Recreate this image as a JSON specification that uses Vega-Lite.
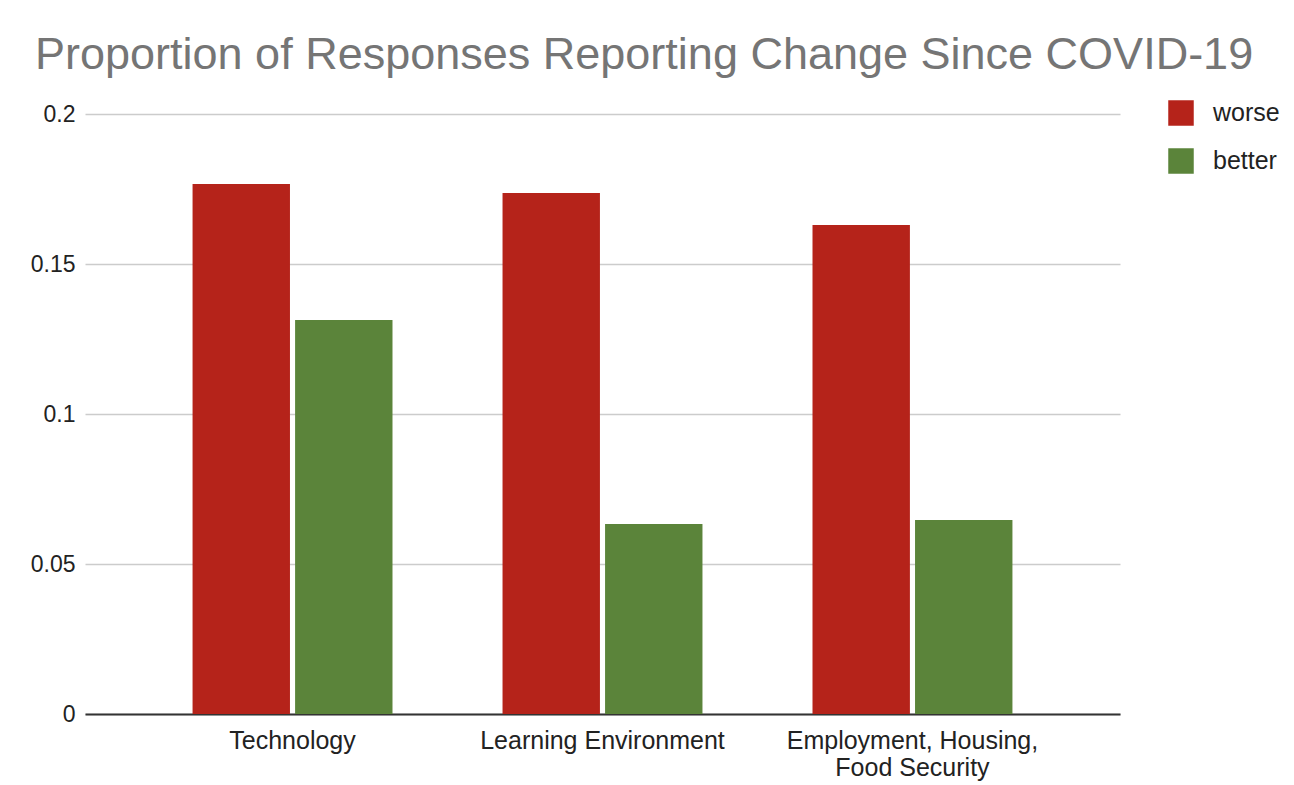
{
  "$schema": "https://vega.github.io/schema/vega-lite/v6.json",
  "autosize": "none",
  "width": 1035,
  "height": 600,
  "padding": {"left": 85, "top": 114, "right": 174, "bottom": 71},
  "background": "white",
  "config": {"view": {"stroke": null}},
  "title": {
    "text": "Proportion of Responses Reporting Change Since COVID-19",
    "anchor": "start",
    "frame": "group",
    "dx": -50,
    "offset": 22,
    "fontSize": 45,
    "font": "Liberation Sans",
    "fontWeight": "normal",
    "color": "#757575"
  },
  "data": {
    "values": [
      {"category": "Technology", "response": "worse", "value": 0.1767},
      {"category": "Technology", "response": "better", "value": 0.1313},
      {"category": "Learning Environment", "response": "worse", "value": 0.1737},
      {"category": "Learning Environment", "response": "better", "value": 0.0633},
      {"category": "Employment, Housing, Food Security", "response": "worse", "value": 0.163},
      {"category": "Employment, Housing, Food Security", "response": "better", "value": 0.0647}
    ]
  },
  "mark": {"type": "bar"},
  "encoding": {
    "x": {
      "field": "category",
      "type": "nominal",
      "sort": ["Technology", "Learning Environment", "Employment, Housing, Food Security"],
      "scale": {"paddingInner": 0.355, "paddingOuter": 0.347},
      "axis": {
        "title": null,
        "labelAngle": 0,
        "labelFont": "Liberation Sans",
        "labelFontSize": 25,
        "labelColor": "#222222",
        "labelPadding": 14,
        "labelLimit": 400,
        "labelLineHeight": 27,
        "ticks": false,
        "domainColor": "#333333",
        "domainWidth": 2,
        "labelExpr": "datum.value == 'Employment, Housing, Food Security' ? ['Employment, Housing,', 'Food Security'] : datum.value"
      }
    },
    "xOffset": {
      "field": "response",
      "type": "nominal",
      "sort": ["worse", "better"],
      "scale": {"paddingInner": 0.05}
    },
    "y": {
      "field": "value",
      "type": "quantitative",
      "scale": {"domain": [0, 0.2]},
      "axis": {
        "title": null,
        "values": [0, 0.05, 0.1, 0.15, 0.2],
        "labelExpr": "datum.value == 0 ? '0' : format(datum.value, '.2~f')",
        "labelFont": "Liberation Sans",
        "labelFontSize": 23,
        "labelColor": "#222222",
        "labelPadding": 10,
        "ticks": false,
        "domain": false,
        "gridColor": "#cccccc",
        "gridWidth": 1.5
      }
    },
    "color": {
      "field": "response",
      "type": "nominal",
      "scale": {"domain": ["worse", "better"], "range": ["#b5231a", "#5b843a"]},
      "legend": {
        "title": null,
        "orient": "none",
        "legendX": 1083,
        "legendY": -14,
        "symbolType": "square",
        "symbolSize": 650,
        "symbolStrokeWidth": 0,
        "labelFont": "Liberation Sans",
        "labelFontSize": 25,
        "labelColor": "#222222",
        "labelOffset": 19,
        "rowPadding": 22
      }
    }
  }
}
